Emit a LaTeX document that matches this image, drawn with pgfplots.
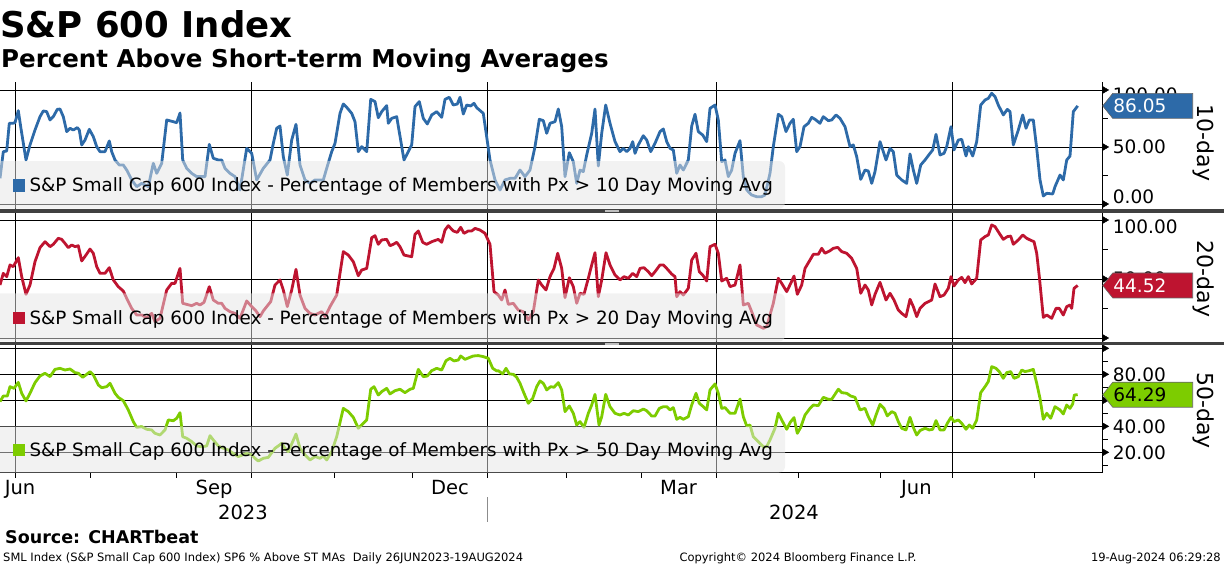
\documentclass[border=0pt]{standalone}
\usepackage{pgfplots}
\pgfplotsset{compat=1.18}
\usepackage{fontspec}
\setmainfont{DejaVu Sans}

\definecolor{bbblue}{RGB}{45,106,168}
\definecolor{bbred}{RGB}{190,20,48}
\definecolor{bbgreen}{RGB}{125,204,0}
\definecolor{barcol}{RGB}{64,64,64}

\newcommand\tickfont{\fontsize{18.5bp}{22bp}\selectfont}
\newcommand\legfont{\fontsize{18.3bp}{22bp}\selectfont}

% value tag at the right edge of a panel
\newcommand\valtag[4]{%
  \filldraw[fill=#2, draw=black!60, line width=0.6bp]
    (#1) -- ++(10bp,12.5bp) -- ++(80bp,0) -- ++(0,-25bp) -- ++(-80bp,0) -- cycle;
  \node[anchor=west, inner sep=0pt, text=#3, font=\tickfont] at ([xshift=10.5bp]#1) {#4};}

\pgfplotsset{
  panel/.style={
    scale only axis, width=1102.7bp,
    xmin=0, xmax=1102.7,
    axis x line*=bottom, axis y line*=right,
    axis line style={black, line width=0.8bp},
    clip=false,
    xtick={15.7,251.6,487.6,716,952}, xticklabels={},
    xmajorgrids, ymajorgrids,
    grid style={black, line width=0.8bp},
    major tick length=0pt, minor tick length=5bp, tick align=outside,
    tick style={black, line width=0.8bp},
    yticklabel style={font=\tickfont, anchor=base west, inner sep=0pt, xshift=10bp, yshift=-6.75bp},
  },
  series/.style={#1, line width=2.8bp, line join=round, mark=none},
  tri/.style={only marks, mark=triangle*, mark size=4bp,
    mark options={xshift=2bp, rotate=-90, fill=black, draw=black}},
  gap/.style={black, line width=0.8bp, forget plot},
}

\begin{document}
\begin{tikzpicture}
\useasboundingbox (0,0) rectangle (1224bp,-566bp);

% ---------- 10-day ----------
\begin{axis}[panel, at={(0,-204bp)}, anchor=south west,
  height=122bp, ymin=0, ymax=107,
  ytick={0,50,100}, yticklabels={\raisebox{7.3bp}{0.00},50.00,\raisebox{-5bp}{100.00}},
  minor ytick={25,75}]
\addplot[series=bbblue] coordinates {
(0,22.5) (3.3,45.9) (6.7,46.5) (9.3,70.8) (12.7,70.8) (15,71.3) (18.3,81.9) (20.7,67.8) (26,38.6) (30,51.8)
(35,64.9) (40,76.6) (43.3,81.6) (46.7,81) (50,73.7) (53.3,76.6) (57.3,83) (60,83.3) (63.3,76.6) (66.7,63.5)
(70,66.4) (73.3,64.9) (77.3,67) (79.3,64.9) (81.7,51.8) (85,56.1) (89.3,65.5) (93.3,59.1) (96.7,50.3) (100,45.9)
(105,45.9) (109.3,55.3) (111.7,45.9) (115,38.6) (119.3,34.2) (123.3,34.2) (126.7,29.8) (131.7,21.1) (136.7,15.2) (141.7,18.1)
(148.3,15.2) (153.3,35.7) (156.7,26.9) (161.7,35.7) (166.7,73.7) (173.3,72.2) (176.7,71.3) (180,79.8) (182.7,38.6) (186.7,31.3)
(191.7,26.9) (196.7,24) (205,24) (209.3,52.3) (213.3,40.1) (218.3,38.6) (221.7,38.6) (225,31.3) (230,26.9) (235,24)
(240,12.3) (246.7,48.8) (251.7,44.4) (256.7,21.1) (263.3,31.3) (270,38.6) (273.3,53.2) (276.7,66.4) (280,68.4) (283.3,41.5)
(287.3,25.4) (291.7,56.1) (296,69.9) (300,34.2) (305,21.1) (310,18.1) (315,21.1) (323.3,21.1) (326.7,31.3) (331.7,45.9)
(335,53.2) (340,79.5) (343.3,87.7) (346.7,84.8) (351.7,79.5) (355,72.2) (358.3,45.9) (361.7,50.3) (366.7,45.9) (370.7,91.8)
(375,89.8) (378.3,75.7) (381.7,81) (386.7,86.3) (388.3,70.8) (391.7,75.1) (396.7,76.6) (404,38.6) (408.3,45.9) (411.7,51.8)
(415,85.4) (419.3,89.8) (423.3,75.1) (427.3,70.2) (431.7,78.1) (436.7,81) (441.7,76) (445,91.8) (449.3,93.6) (453.3,86.8)
(457.3,87.7) (460,93.6) (463.3,78.9) (466.7,86.8) (470.7,86) (474,88.3) (476.7,84.5) (483.3,79.5) (490,38.6) (495,21.1)
(500,12.3) (505,21.1) (510,22.5) (515,22.5) (520,29.8) (525,24) (530,29.8) (535,50.3) (539.3,74.3) (543.3,73.1)
(546.7,62) (550,70.8) (555,72.2) (558.3,83.3) (561.7,67.8) (565,24) (569.3,45) (573.3,37.1) (576.7,18.1) (580,29.8)
(583.3,28.4) (586.7,43) (591.7,62) (595,83.3) (598.3,33.3) (601.7,62) (605.7,86.8) (610,70.8) (615,54.7) (620,45.9)
(623.3,48.8) (626.7,45.9) (630,48.8) (632.7,54.7) (635,44.4) (638.3,51.8) (643.3,59.9) (646.7,56.1) (650.7,45.9) (655,53.2)
(660,63.5) (663.3,65.8) (666.7,54.7) (670,48.8) (673.3,47.4) (676.7,26.9) (680,34.2) (683.3,29.8) (688.3,38.6) (691.7,68.4)
(695,78.7) (698.3,63.5) (702.7,60.5) (706.7,54.7) (710,83.9) (715,86.8) (718.3,73.7) (721.7,37.1) (725,38.6) (728.3,24)
(731.7,29.8) (735,44.4) (740,55.6) (743.3,24) (746.7,12.3) (751.7,7.9) (756.7,6.4) (761.7,6.4) (765,7.9) (770,26.9)
(773.3,50.3) (778.3,78.7) (781.7,76.6) (786,63.5) (790,70.8) (793.3,74.3) (796.7,45.9) (800,50.3) (804,67.8) (808.3,70.8)
(811.7,76) (815,74.3) (820,70.8) (823.3,76.6) (828.3,73.1) (831.7,73.7) (836,78.1) (840,75.1) (845,67.8) (850,50.3)
(853.3,51.8) (856.7,41.5) (860.7,21.6) (865,29.8) (868.3,28.9) (871.7,18.1) (875,28.4) (880,54.7) (886,38.6) (890,48.8)
(893.3,45.9) (896.7,25.4) (901.7,21.1) (906.7,18.1) (910,43.9) (913.3,29.8) (916.7,18.1) (920.7,34.2) (925,38.6) (930,44.4)
(932.7,47.4) (936,61.1) (940,43) (944,44.4) (946.7,50.3) (951,67.8) (954,47.4) (958.3,56.1) (961.7,56.7) (966,42.1)
(968.3,50.3) (972.7,42.1) (976.7,54.7) (980.7,86.8) (985,91.2) (988.3,92.7) (991.7,97.1) (995,94.2) (998.3,86.8) (1003.3,78.1)
(1007.3,83) (1010,81) (1013.3,51.8) (1018.3,64.9) (1022.7,78.1) (1026,66.4) (1029.3,73.7) (1033.3,73.7) (1036.7,48.8) (1040,21.1)
(1043.3,7) (1046.7,9.4) (1052.7,8.8) (1055,15.2) (1060,25.4) (1063.3,21.1) (1066.7,38.6) (1070,42.1) (1073.3,81) (1077.7,86.05)};
\addplot[tri] coordinates {(1102.7,0) (1102.7,50) (1102.7,100)};
\coordinate (tagA) at (axis cs:1102.7,86.05);
\end{axis}

% ---------- 20-day ----------
\begin{axis}[panel, at={(0,-338bp)}, anchor=south west,
  height=118bp, ymin=0, ymax=100,
  ytick={0,50,100}, yticklabels={,50.00,\raisebox{-6.7bp}{100.00}},
  minor ytick={25,75}]
\pgfplotsinvokeforeach{15.7,251.6,487.6,716,952,1102.7}{\addplot[gap] coordinates {(#1,100) (#1,113.6)};}
\addplot[series=bbred] coordinates {
(0,44.9) (3.3,54.8) (6.7,52) (10,61.9) (13.3,60.5) (18.3,68.1) (21.7,52) (26,37) (30,44.9) (35,64.7)
(40,76.6) (45,81.6) (50,77.4) (53.3,79.4) (58.3,84.5) (61.7,83.6) (65,80.2) (68.3,76.6) (71.7,78.8) (75,77.4)
(78.3,78.2) (81.7,65.3) (86,70.3) (90,75.4) (93.3,71.8) (96.7,60.5) (100,54.8) (105,54.8) (109.3,59.6) (113.3,49.2)
(118.3,43.5) (123.3,39.8) (126.7,33.6) (131.7,25.1) (136.7,19.5) (141.7,19.5) (146.7,17.2) (151.7,20.9) (155,13.8) (160,16.7)
(166.7,40.7) (171.7,46.3) (175,46.3) (180,59) (182.7,29.4) (186.7,28.5) (191.7,27.4) (196.7,29.4) (200,28) (204,30.2)
(209.3,43.5) (213.3,32.2) (218.3,29.4) (221.7,29.4) (225,25.1) (230,22.3) (235,20.9) (240,16.7) (246.7,31.4) (251.7,26.6)
(256,22.9) (260,18.1) (263.3,22.9) (266.7,26.6) (270.7,30.8) (275,44.9) (280,49.2) (283.3,40.7) (287.3,26.6) (291.7,40.7)
(296,58.2) (300,36.4) (305,25.1) (310,20.9) (315,19.5) (321.7,22.3) (325,18.1) (330,26.6) (336.7,36.4) (343.3,73.2)
(348.3,70.3) (353.3,64.7) (358.3,52.8) (361.7,57.6) (366.7,59) (371.7,85) (375,86.7) (378.3,79.4) (381.7,83.1) (386.7,83.6)
(390,78.2) (393.3,79.4) (396.7,81.1) (400,77.4) (404,70.3) (408.3,69.5) (411.7,68.9) (415,87.9) (418.3,90.7) (422.7,81.1)
(426.7,79.4) (431.7,81.6) (438.3,83.6) (441.7,81.1) (445,91.5) (448.3,95.2) (453.3,90.7) (457.3,89.5) (460.7,93.8) (464,88.7)
(468.3,90.7) (471.7,90.7) (475,92.9) (480,91.5) (485,88.7) (490,79.4) (494,39.3) (498.3,36.4) (501.7,32.2) (505,40.7)
(508.3,28.5) (513.3,29.4) (518.3,23.7) (523.3,22.3) (528.3,15.3) (533.3,22.3) (538.3,49.2) (541.7,44.9) (546,40.7) (550,52)
(554,59) (557.7,71.8) (561.7,59) (565,34.2) (569.3,51.1) (573.3,43.5) (576.7,29.4) (580,37.9) (584,37) (588.3,50.6)
(591.7,61.9) (595,72.3) (598.3,35) (601.7,49.2) (606,72.3) (610,61.9) (615,53.4) (620,49.2) (624,52) (628.3,50.6)
(632.7,54.8) (636.7,52) (640,59) (644,59.6) (648.3,56.2) (651.7,52.8) (655,56.2) (660,61.9) (663.3,61.9) (666.7,59)
(671.7,54.2) (675,52) (676.7,35) (680,39.3) (683.3,36.4) (688.3,42.1) (691.7,66.1) (696,71.8) (699.3,56.2) (702.7,53.4)
(706.7,48.3) (710,77.4) (715,79.4) (718.3,71.8) (721.7,48.3) (726.7,50.6) (730,43.5) (735,44.9) (740,61.9) (743.3,28)
(748.3,29.4) (751.7,22.3) (756.7,11) (763.3,8.2) (766.7,9.6) (773.3,29.4) (778.3,50.6) (781.7,46.3) (786.7,39.3) (790.7,46.3)
(794,52.5) (797.3,37) (801.7,44.9) (805,59) (810,66.1) (813.3,70.9) (818.3,70.9) (821.7,76) (825,71.8) (830,74)
(833.3,76) (837.7,76.8) (841.7,73.2) (846.7,71.8) (851.7,67.5) (856.7,59) (860.7,37.9) (865,44.9) (868.3,40.7) (871.7,28)
(875,37) (880,47.2) (886,32.2) (890,37.9) (894,32.2) (898.3,23.7) (901.7,20.9) (906,18.1) (910,32.8) (913.3,26.6)
(916.7,18.1) (920,25.1) (925,29.4) (931.7,32.2) (935,45.8) (940,35) (944,36.4) (948.3,42.1) (951,52) (954,44.1)
(958.3,49.2) (961.7,51.4) (965,46.9) (968.3,52) (971.7,45.8) (976.7,50.6) (980.7,83.1) (985,85.9) (988.3,87.3) (991.7,95.8)
(995,94.4) (999.3,88.7) (1003.3,83.6) (1007.3,85.9) (1010.7,86.4) (1013.3,79.4) (1018.3,83.1) (1022.7,87.3) (1026.7,84.5) (1030,83.1)
(1034,81.6) (1036.7,71.8) (1039.3,52) (1043.3,17.5) (1046.7,19.5) (1051.7,16.7) (1056,25.1) (1059.3,25.1) (1063.3,19.5) (1066.7,26.6)
(1070,28) (1071.7,25.1) (1074,42.1) (1077.7,44.52)};
\addplot[tri] coordinates {(1102.7,0) (1102.7,50) (1102.7,100)};
\coordinate (tagB) at (axis cs:1102.7,44.52);
\end{axis}

% ---------- 50-day ----------
\begin{axis}[panel, at={(0,-472.5bp)}, anchor=south west,
  height=124.2bp, ymin=4.46, ymax=100,
  ytick={20,40,60,80,100}, yticklabels={20.00,40.00,,80.00,},
  minor ytick={10,30,50,70,90},
  xtick={20,214,450,678.6,916.4}, xticklabels={Jun,Sep,Dec,Mar,Jun},
  xmajorgrids=false,
  extra x ticks={15.7,251.6,487.6,716,952}, extra x tick labels={},
  extra x tick style={grid=major},
  minor xtick={15.7,90.6,176.7,251.6,334,412.7,487.6,566.2,641.1,716,798.4,880.8,952,1034.3},
  xticklabel style={font=\fontsize{19.5bp}{22bp}\selectfont, anchor=base, inner sep=0pt, yshift=-21.5bp}]
\pgfplotsinvokeforeach{15.7,251.6,487.6,716,952,1102.7}{\addplot[gap] coordinates {(#1,100) (#1,107.9)};}
\addplot[series=bbgreen] coordinates {
(0,59) (3.3,63.3) (7.3,63.3) (10,70.5) (14,69.2) (18.3,73.8) (21.7,65.4) (26,59.5) (30,65.4) (35,73.6)
(40,78.7) (45,80.8) (50,78.2) (55,83.8) (60,84.6) (65,83.3) (70,84.1) (75,81.3) (78.3,80.8) (82.7,77.7)
(86.7,80) (90,82) (93.3,79.5) (98.3,71.8) (101.7,69.7) (106.7,70.5) (110,73.1) (115,65.4) (118.3,62.3) (123.3,59.7)
(128.3,52.6) (133.3,43.6) (136.7,39.2) (141.7,39.7) (146.7,37.7) (151.7,37.2) (155,34.6) (160,33.3) (165,37.2) (168.3,44.9)
(173.3,44.3) (176.7,46.2) (180,50.5) (182.7,32) (186.7,30.8) (191.7,28.2) (196.7,24.9) (201.7,24.3) (206.7,24.9) (210,32.8)
(213.3,29.5) (218.3,24.9) (223.3,23.1) (228.3,21.8) (233.3,19.2) (238.3,16.7) (246.7,19.2) (251.7,18) (255,15.4) (258.3,13.3)
(263.3,15.4) (268.3,16.1) (275,23.1) (278.3,24.9) (281.7,26.9) (285,23.1) (288.3,20.5) (292.7,28.2) (296,34.1) (300,23.1)
(305,18) (310,14.1) (315,16.7) (320,15.4) (323.3,17.2) (326.7,14.1) (331.7,20.5) (336.7,32) (343.3,53.8) (348.3,51.3)
(353.3,46.9) (358.3,38.5) (363.3,42.3) (366.7,44.9) (370.7,68.5) (374,70.5) (378.3,64.1) (381.7,66.7) (386.7,69.2) (390,64.9)
(395,67.4) (400,68.5) (405,65.9) (410,68.5) (413.3,69.2) (418.3,83.8) (423.3,78.2) (427.3,78.7) (431.7,82.8) (436.7,84.6)
(441.7,83.3) (446,90.5) (450,92.3) (454,90.3) (458.3,91) (460.7,94.1) (465,91.5) (470,93.1) (473.3,94.1) (478.3,94.4)
(483.3,93.6) (488.3,92.3) (492.7,84.6) (496.7,82.6) (498.3,82.8) (502.7,80.3) (506,84.6) (509.3,80.3) (513.3,80) (516.7,77.7)
(520,73.1) (523.3,66.7) (528.3,57.7) (532.7,61.5) (536.7,70.5) (540,74.9) (543.3,73.1) (546.7,68) (550.7,70.5) (554,70)
(558.3,73.6) (561.7,68) (565,51.3) (569.3,55.6) (573.3,50) (576.7,41) (580,43.6) (584,39.2) (588.3,50) (591.7,56.4)
(595,64.6) (599,41) (601.7,47.4) (605.7,64.6) (610,55.1) (615,50) (620,48.7) (624,50) (628.3,48.7) (633.3,52)
(638.3,51.3) (643.3,53.3) (646.7,52) (651.7,47.9) (655,47.9) (659.3,53.8) (663.3,55.1) (666.7,55.1) (670,52.6) (673.3,54.4)
(676.7,45.4) (680,46.9) (683.3,45.4) (688.3,47.4) (691.7,56.4) (696,65.4) (699.3,57.7) (703.3,55.1) (706.7,52.6) (710,68)
(715,72.6) (718.3,65.4) (721.7,53.8) (725,54.4) (730,50) (735,50) (740,61) (743.3,47.4) (746.7,40.3) (750,41)
(753.3,32) (758.3,28.2) (763.3,24.3) (766.7,24.3) (770,29.5) (775,38.5) (778.3,50) (781.7,44.9) (786.7,37.7) (790,42.8)
(794,46.7) (797.3,34.6) (800.7,39.2) (805,48.7) (810,53.8) (813.3,56.4) (818.3,55.9) (823.3,62.3) (828.3,60.8) (831.7,60.8)
(838.3,68.5) (841.7,65.9) (846.7,65.4) (850.7,63.3) (855,62.3) (860,52.6) (865,53.8) (868.3,47.4) (872.7,41) (876,48.7)
(880,56.9) (884,53.8) (887.3,48) (891.7,51.3) (895,50) (898.3,43.6) (901.7,38.5) (906,37.2) (910,46.9) (913.3,39.2)
(916.7,33.3) (920,36.7) (925,38.5) (929.3,37.2) (932.7,37.7) (936,44.4) (940,37.2) (944,37.2) (947.3,42.3) (951,46.9)
(954,43.6) (958.3,44.9) (961.7,42.3) (966,37.7) (969.3,41) (972.7,38.5) (976.7,44.9) (980.7,65.9) (985,70.5) (988.3,74.4)
(991.7,85.9) (996,84.6) (999.3,82.1) (1003.3,76.9) (1006.7,81.3) (1010.7,82.1) (1014,76.9) (1018.3,78.2) (1021.7,83.3) (1025,82.1)
(1029.3,82.8) (1033.3,83.8) (1036.7,73.1) (1040,61.5) (1043.3,45.4) (1046.7,50) (1050.7,46.2) (1055,55.1) (1060,52.6) (1063.3,49.5)
(1066.7,56.4) (1070,53.8) (1072.7,57.2) (1074.3,64.1) (1077.7,64.29)};
\addplot[tri] coordinates {(1102.7,20) (1102.7,40) (1102.7,60) (1102.7,80) (1102.7,100)};
\coordinate (tagC) at (axis cs:1102.7,64.29);
\end{axis}

% legend boxes (semi-transparent, over the lines)
\fill[black!10, fill opacity=0.5, rounded corners=6bp] (-8bp,-161bp) rectangle (785bp,-208.7bp);
\fill[black!10, fill opacity=0.5, rounded corners=6bp] (-8bp,-293.3bp) rectangle (785bp,-341.5bp);
\fill[black!10, fill opacity=0.5, rounded corners=6bp] (-8bp,-426.3bp) rectangle (785bp,-472.5bp);
\fill[bbblue] (12.7bp,-179.4bp) rectangle (25bp,-191.7bp);
\fill[bbred] (12.7bp,-311.8bp) rectangle (25bp,-324.3bp);
\fill[bbgreen] (12.7bp,-443.5bp) rectangle (25bp,-456bp);
\node[anchor=base west, inner sep=0pt, font=\legfont] at (29.3bp,-191.7bp)
  {S\&P Small Cap 600 Index - Percentage of Members with Px > 10 Day Moving Avg};
\node[anchor=base west, inner sep=0pt, font=\legfont] at (29.3bp,-324.3bp)
  {S\&P Small Cap 600 Index - Percentage of Members with Px > 20 Day Moving Avg};
\node[anchor=base west, inner sep=0pt, font=\legfont] at (29.3bp,-456bp)
  {S\&P Small Cap 600 Index - Percentage of Members with Px > 50 Day Moving Avg};

% separator bars between the panels
\fill[barcol] (0,-209bp) rectangle (1224bp,-212.7bp);
\fill[barcol] (0,-341.6bp) rectangle (1224bp,-345.3bp);
\foreach \yy in {-210.2,-211.5} {\draw[black!25, line width=0.5bp] (605bp,\yy bp) -- (619bp,\yy bp);}
\foreach \yy in {-342.8,-344.1} {\draw[black!25, line width=0.5bp] (605bp,\yy bp) -- (619bp,\yy bp);}

% last-value tags
\valtag{tagA}{bbblue}{white}{86.05}
\valtag{tagB}{bbred}{white}{44.52}
\valtag{tagC}{bbgreen}{black}{64.29}

% panel names
\node[rotate=-90, font=\fontsize{22bp}{24bp}\selectfont] at (1204bp,-143bp) {10-day};
\node[rotate=-90, font=\fontsize{22bp}{24bp}\selectfont] at (1204bp,-279bp) {20-day};
\node[rotate=-90, font=\fontsize{22bp}{24bp}\selectfont] at (1204bp,-410.5bp) {50-day};

% years
\node[anchor=base, inner sep=0pt, font=\fontsize{19.5bp}{22bp}\selectfont] at (243bp,-519bp) {2023};
\node[anchor=base, inner sep=0pt, font=\fontsize{19.5bp}{22bp}\selectfont] at (794bp,-519bp) {2024};
\draw[black!45, line width=0.8bp] (487.6bp,-497bp) -- (487.6bp,-522bp);

% titles
\node[anchor=base west, inner sep=0pt, font=\bfseries\fontsize{35.5bp}{40bp}\selectfont] at (0bp,-37bp) {S\&P 600 Index};
\node[anchor=base west, inner sep=0pt, font=\bfseries\fontsize{24.5bp}{28bp}\selectfont] at (1bp,-67bp) {Percent Above Short-term Moving Averages};

% footer
\node[anchor=base west, inner sep=0pt, font=\bfseries\fontsize{17.5bp}{20bp}\selectfont] at (5bp,-543bp) {Source: CHARTbeat};
\node[anchor=base west, inner sep=0pt, font=\fontsize{11.5bp}{13bp}\selectfont] at (3bp,-561bp)
  {SML Index (S\&P Small Cap 600 Index) SP6 \% Above ST MAs\ \ Daily 26JUN2023-19AUG2024};
\node[anchor=base, inner sep=0pt, font=\fontsize{11.5bp}{13bp}\selectfont] at (798bp,-561bp) {Copyright© 2024 Bloomberg Finance L.P.};
\node[anchor=base east, inner sep=0pt, font=\fontsize{11.5bp}{13bp}\selectfont] at (1221bp,-561bp) {19-Aug-2024 06:29:28};
\end{tikzpicture}
\end{document}
